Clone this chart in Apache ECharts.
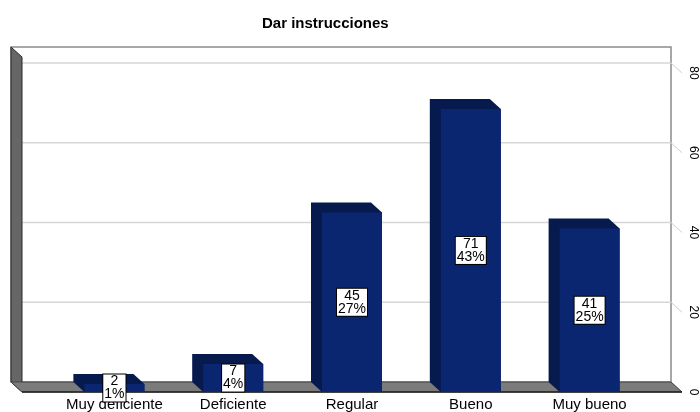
<!DOCTYPE html>
<html>
<head>
<meta charset="utf-8">
<script src="https://cdn.jsdelivr.net/npm/echarts@6/dist/echarts.min.js"></script>
<style>html,body{margin:0;padding:0;background:#fff}#c{width:700px;height:412px}</style>
</head>
<body>
<div id="c"></div>
<script>
const categories = ['Muy deficiente', 'Deficiente', 'Regular', 'Bueno', 'Muy bueno'];
const counts = [2, 7, 45, 71, 41];
const percents = ['1%', '4%', '27%', '43%', '25%'];
const yMax = 80;
const yInterval = 20;
const yTicks = [0, 20, 40, 60, 80];
const wallTopValue = 84;

const DX = -11, DY = -10, SIDE = 33;
const FONT = 'Liberation Sans, Arial, sans-serif';

const chart = echarts.init(document.getElementById('c'), null, {renderer: 'canvas'});

function renderFrame(params, api) {
  const cs = params.coordSys;
  const fl = cs.x - SIDE, fr = cs.x + cs.width + SIDE;
  const y0 = api.coord([0, 0])[1];
  const yTop = api.coord([0, wallTopValue])[1];
  const children = [];
  children.push({type: 'rect', shape: {x: fl + DX, y: yTop + DY, width: fr - fl, height: y0 - yTop},
    style: {fill: '#ffffff', stroke: '#8a8a8a', lineWidth: 1.5}});
  yTicks.forEach(v => {
    const y = api.coord([0, v])[1];
    if (v > 0) children.push({type: 'line', shape: {x1: fl + DX, y1: y + DY, x2: fr + DX, y2: y + DY},
      style: {stroke: '#d6d6d6', lineWidth: 1.5}});
    children.push({type: 'line', shape: {x1: fr + DX, y1: y + DY, x2: fr, y2: y},
      style: {stroke: '#cfcfcf', lineWidth: 1}});
  });
  children.push({type: 'polygon', shape: {points: [[fl + DX, yTop + DY], [fl, yTop], [fl, y0], [fl + DX, y0 + DY]]},
    style: {fill: '#666666', stroke: '#2a2a2a', lineWidth: 1}});
  children.push({type: 'polygon', shape: {points: [[fl + DX, y0 + DY], [fr + DX, y0 + DY], [fr, y0], [fl, y0]]},
    style: {fill: '#7b7b7b', stroke: '#444444', lineWidth: 1}});
  children.push({type: 'line', shape: {x1: fl, y1: y0, x2: fr, y2: y0}, style: {stroke: '#222', lineWidth: 1.5}});
  return {type: 'group', children};
}

function renderBar(params, api) {
  const i = api.value(0), v = api.value(1);
  const top = api.coord([i, v]);
  const base = api.coord([i, 0]);
  const w = api.size([1, 0])[0] * 0.505;
  const L = top[0] - w / 2, R = top[0] + w / 2;
  const children = [
    {type: 'polygon', shape: {points: [[L + DX, top[1] + DY], [R + DX, top[1] + DY], [R, top[1]], [R, base[1]], [L, base[1]], [L + DX, base[1] + DY]]},
      style: {fill: '#061a4e'}},
    {type: 'rect', shape: {x: L, y: top[1], width: w, height: base[1] - top[1]},
      style: {fill: '#0b2670'}},
    {type: 'text', z2: 10, style: {text: counts[i] + '\n' + percents[i], x: top[0], y: (top[1] + base[1]) / 2,
      align: 'center', verticalAlign: 'middle', fill: '#000', font: '14px ' + FONT, lineHeight: 13,
      backgroundColor: '#fff', borderColor: '#000', borderWidth: 1, padding: [1, 1, 0, 1]}}
  ];
  return {type: 'group', children};
}

chart.setOption({
  animation: false,
  backgroundColor: '#fff',
  title: {text: 'Dar instrucciones', left: 257, top: 11,
    textStyle: {fontFamily: FONT, fontSize: 15, fontWeight: 'bold', color: '#000'}},
  grid: {left: 55, right: 51, top: 73, bottom: 20, containLabel: false, outerBoundsMode: 'none'},
  xAxis: {type: 'category', data: categories,
    axisLine: {show: false}, axisTick: {show: false},
    axisLabel: {fontFamily: FONT, fontSize: 15, color: '#000', margin: 5, interval: 0}},
  yAxis: {type: 'value', position: 'right', min: 0, max: yMax, interval: yInterval, offset: SIDE,
    axisLine: {show: false}, axisTick: {show: false}, splitLine: {show: false},
    axisLabel: {fontFamily: FONT, fontSize: 12, color: '#000', rotate: -90, margin: 5}},
  series: [
    {type: 'custom', z: 1, silent: true, clip: false, renderItem: renderFrame, data: [[0, 0]]},
    {type: 'custom', z: 2, silent: true, clip: false, renderItem: renderBar,
      data: counts.map((c, i) => [i, c])}
  ]
});
</script>
</body>
</html>
